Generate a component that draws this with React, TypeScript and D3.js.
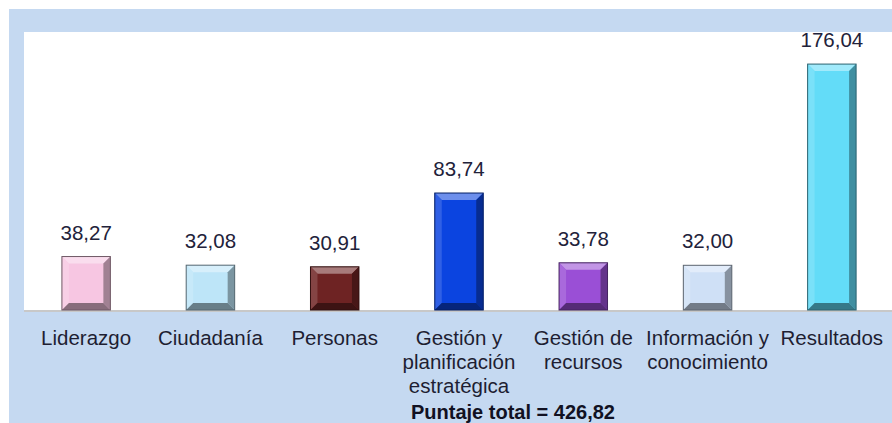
import React from "react";
import * as d3 from "d3";

const categories = [
  ["Liderazgo"],
  ["Ciudadanía"],
  ["Personas"],
  ["Gestión y", "planificación", "estratégica"],
  ["Gestión de", "recursos"],
  ["Información y", "conocimiento"],
  ["Resultados"],
];
const values = [38.27, 32.08, 30.91, 83.74, 33.78, 32.0, 176.04];
const colors = ["#f7c6e2", "#bde5f8", "#6e2323", "#0b44e0", "#9a4fd6", "#cfe0f6", "#63dcf8"];
const totalLabel = "Puntaje total = 426,82";

const W = 892;
const H = 423;
const plot = { left: 24, right: 894, top: 32, bottom: 310 };

const fmt = (v: number) => v.toFixed(2).replace(".", ",");

const App = () => {
  const keys = categories.map((c) => c.join(" "));
  const x = d3
    .scaleBand()
    .domain(keys)
    .range([plot.left, plot.right])
    .paddingInner(0.61)
    .paddingOuter(0.305);
  const y = d3.scaleLinear().domain([0, 199]).range([plot.bottom, plot.top]);
  const bw = x.bandwidth();
  const bev = 7;

  const mix = (c: string, t: string, k: number) => d3.interpolateRgb(c, t)(k);

  return (
    <svg width={W} height={H} style={{ position: "absolute", left: 0, top: 0 }}>
      <rect x={0} y={0} width={W} height={H} fill="#ffffff" />
      <rect x={9} y={9} width={W - 9} height={H - 9} fill="#c5d9f1" />
      <rect x={plot.left} y={plot.top} width={W - plot.left} height={plot.bottom - plot.top} fill="#ffffff" />
      <rect x={plot.left} y={plot.bottom} width={W - plot.left} height={2} fill="#c8c8c8" />

      {values.map((v, i) => {
        const x0 = x(keys[i]) as number;
        const x1 = x0 + bw;
        const y0 = y(v);
        const y1 = y(0);
        const c = colors[i];
        const b = Math.min(bev, (y1 - y0) / 2);
        return (
          <g key={keys[i]}>
            <rect x={x0} y={y0} width={bw} height={y1 - y0} fill={c} />
            <polygon
              points={`${x0},${y0} ${x1},${y0} ${x1 - b},${y0 + b} ${x0 + b},${y0 + b}`}
              fill={mix(c, "#ffffff", 0.4)}
            />
            <polygon
              points={`${x0},${y0} ${x0 + b},${y0 + b} ${x0 + b},${y1 - b} ${x0},${y1}`}
              fill={mix(c, "#ffffff", 0.15)}
            />
            <polygon
              points={`${x1},${y0} ${x1},${y1} ${x1 - b},${y1 - b} ${x1 - b},${y0 + b}`}
              fill={mix(c, "#000000", 0.35)}
            />
            <polygon
              points={`${x0},${y1} ${x0 + b},${y1 - b} ${x1 - b},${y1 - b} ${x1},${y1}`}
              fill={mix(c, "#000000", 0.45)}
            />
            <rect x={x0} y={y0} width={bw} height={y1 - y0} fill="none" stroke={mix(c, "#000000", 0.55)} strokeWidth={1} />
            <text
              x={x0 + bw / 2}
              y={y0 - 17}
              textAnchor="middle"
              fontFamily="Liberation Sans, Arial, sans-serif"
              fontSize={20.5}
              fill="#22223a"
            >
              {fmt(v)}
            </text>
          </g>
        );
      })}

      {categories.map((lines, i) => (
        <text
          key={keys[i]}
          x={(x(keys[i]) as number) + bw / 2}
          y={345}
          textAnchor="middle"
          fontFamily="Liberation Sans, Arial, sans-serif"
          fontSize={20.5}
          fill="#1e1e32"
        >
          {lines.map((l, j) => (
            <tspan key={j} x={(x(keys[i]) as number) + bw / 2} dy={j === 0 ? 0 : 24}>
              {l}
            </tspan>
          ))}
        </text>
      ))}

      <text
        x={513}
        y={419}
        textAnchor="middle"
        fontFamily="Liberation Sans, Arial, sans-serif"
        fontSize={20}
        fontWeight="bold"
        fill="#111122"
      >
        {totalLabel}
      </text>
    </svg>
  );
};

export default App;
